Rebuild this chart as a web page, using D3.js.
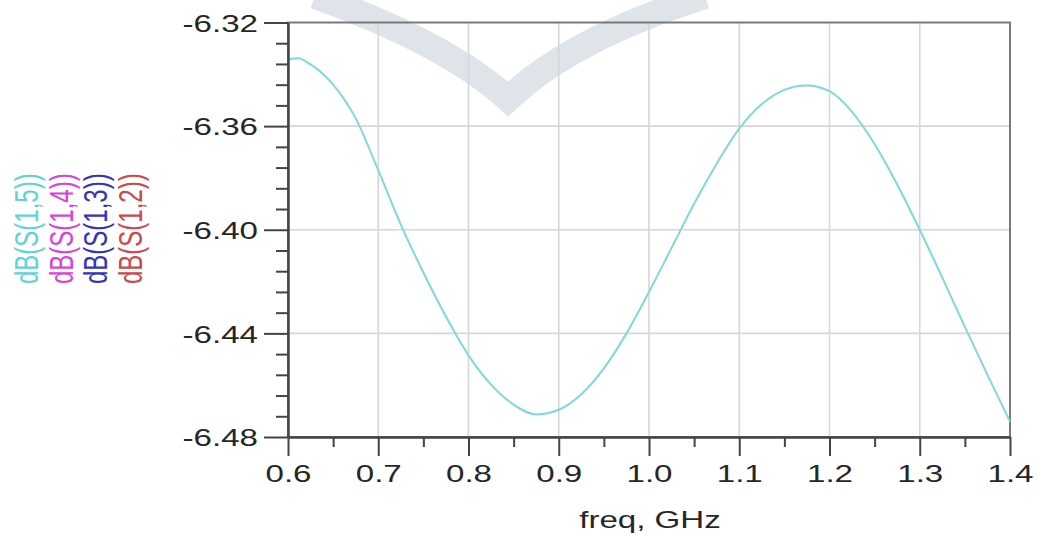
<!DOCTYPE html>
<html>
<head>
<meta charset="utf-8">
<script src="https://cdn.jsdelivr.net/npm/d3@7"></script>
<style>
  body { margin: 0; background: #fff; }
  text { font-family: "Liberation Sans", Arial, sans-serif; }
</style>
</head>
<body>
<svg id="chart"></svg>
<script>
// values
const freq = [0.600, 0.611, 0.625, 0.650, 0.675, 0.700, 0.725, 0.750, 0.775, 0.800,
              0.825, 0.850, 0.875, 0.900, 0.925, 0.950, 0.975, 1.000, 1.025, 1.050,
              1.075, 1.100, 1.125, 1.150, 1.175, 1.200, 1.225, 1.250, 1.275, 1.300,
              1.325, 1.350, 1.375, 1.400];
const s15 = [-6.3343, -6.3338, -6.3362, -6.3440, -6.3570, -6.3770, -6.3980, -6.4165, -6.4335, -6.4485,
             -6.4598, -6.4675, -6.4713, -6.4695, -6.4635, -6.4535, -6.4400, -6.4240, -6.4070, -6.3900,
             -6.3745, -6.3610, -6.3515, -6.3460, -6.3443, -6.3465, -6.3545, -6.3670, -6.3825, -6.4000,
             -6.4185, -6.4375, -6.4560, -6.4740];

const legendLabels = ["dB(S(1,5))", "dB(S(1,4))", "dB(S(1,3))", "dB(S(1,2))"];
const legendColors = ["#5fd4d8", "#d844d8", "#3434b8", "#cc4a4a"];

const xTicks = [0.6, 0.7, 0.8, 0.9, 1.0, 1.1, 1.2, 1.3, 1.4];
const xMinor = [0.65, 0.75, 0.85, 0.95, 1.05, 1.15, 1.25, 1.35];
const yTicks = [-6.48, -6.44, -6.40, -6.36, -6.32];
const yMinor = d3.range(0, 21).map(i => -6.48 + i * 0.008).filter((d, i) => i % 5 !== 0);

const W = 1040, H = 536;
const plot = { left: 288, right: 1010, top: 22.5, bottom: 437 };
const stretch = 1.38;   // text in the picture is wide

const svg = d3.select("#chart").attr("width", W).attr("height", H);

const x = d3.scaleLinear().domain([0.6, 1.4]).range([plot.left, plot.right]);
const y = d3.scaleLinear().domain([-6.48, -6.32]).range([plot.bottom, plot.top]);

// watermark
svg.append("path")
    .attr("d", "M315,-4 Q448,44 508,99 Q572,38 705,-4")
    .attr("fill", "none")
    .attr("stroke", "#dfe4ea")
    .attr("stroke-width", 26)
    .attr("stroke-miterlimit", 10);

// grid
const grid = svg.append("g").attr("stroke", "#d6d6d6").attr("stroke-width", 1.6);
grid.selectAll(".vx").data(xTicks.slice(1, -1)).join("line")
    .attr("x1", d => x(d)).attr("x2", d => x(d))
    .attr("y1", plot.top).attr("y2", plot.bottom);
grid.selectAll(".hy").data(yTicks.slice(1, -1)).join("line")
    .attr("x1", plot.left).attr("x2", plot.right)
    .attr("y1", d => y(d)).attr("y2", d => y(d));

// frame
svg.append("rect")
    .attr("x", plot.left).attr("y", plot.top)
    .attr("width", plot.right - plot.left).attr("height", plot.bottom - plot.top)
    .attr("fill", "none").attr("stroke", "#7a7a7a").attr("stroke-width", 2);

// curve
const line = d3.line()
    .x((d, i) => x(freq[i]))
    .y(d => y(d))
    .curve(d3.curveMonotoneX);

svg.append("path")
    .datum(s15)
    .attr("d", line)
    .attr("fill", "none")
    .attr("stroke", "#80d8d8")
    .attr("stroke-width", 2);

// axes
const yMinorAxis = svg.append("g")
    .attr("transform", `translate(${plot.left},0)`)
    .call(d3.axisLeft(y).tickValues(yMinor).tickSize(12).tickSizeOuter(0).tickFormat(""));
const xMinorAxis = svg.append("g")
    .attr("transform", `translate(0,${plot.bottom})`)
    .call(d3.axisBottom(x).tickValues(xMinor).tickSize(10).tickSizeOuter(0).tickFormat(""));

const yAxis = svg.append("g")
    .attr("transform", `translate(${plot.left},0)`)
    .call(d3.axisLeft(y).tickValues(yTicks).tickSize(24).tickSizeOuter(0).tickFormat(d => d.toFixed(2)));
const xAxis = svg.append("g")
    .attr("transform", `translate(0,${plot.bottom})`)
    .call(d3.axisBottom(x).tickValues(xTicks).tickSize(19).tickSizeOuter(0).tickFormat(d => d.toFixed(1)));

[yMinorAxis, xMinorAxis, yAxis, xAxis].forEach(g => {
    g.attr("color", "#444").attr("font-size", 24).attr("font-family", null);
    g.selectAll("line, path").attr("stroke-width", 2);
    g.selectAll("text").attr("fill", "#262626");
});

yAxis.selectAll("text")
    .attr("x", null)
    .attr("dy", "0.36em")
    .attr("transform", `translate(-30,0) scale(${stretch},1)`);

xAxis.selectAll("text")
    .attr("y", 28)
    .attr("transform", `scale(${stretch},1)`);

// axis title
svg.append("text")
    .attr("transform", `translate(650,528) scale(${stretch},1)`)
    .attr("text-anchor", "middle")
    .attr("font-size", 24)
    .attr("fill", "#262626")
    .text("freq, GHz");

// legend (rotated, one column per trace)
const legendX = [38, 73, 107, 142];
svg.append("g").selectAll("text")
    .data(legendLabels)
    .join("text")
    .attr("transform", (d, i) => `translate(${legendX[i]},284) scale(${stretch},1) rotate(-90)`)
    .attr("font-size", 24)
    .attr("fill", (d, i) => legendColors[i])
    .text(d => d);
</script>
</body>
</html>
